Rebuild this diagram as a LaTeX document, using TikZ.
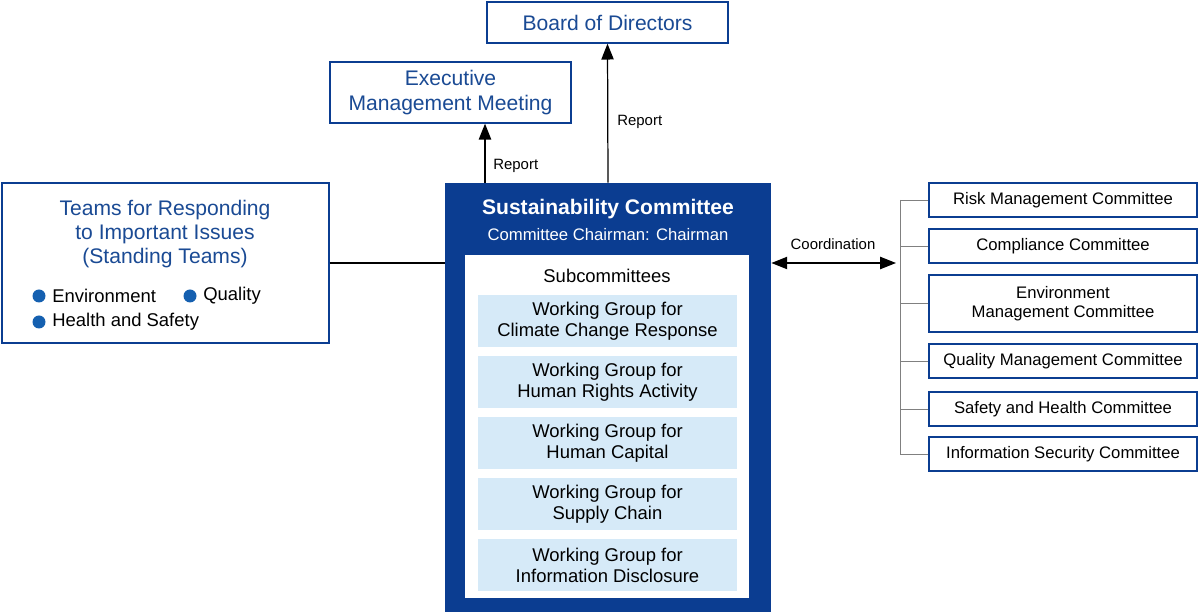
\documentclass[tikz,border=0pt]{standalone}
\usepackage{fontspec}
\setmainfont{Liberation Sans}
\usetikzlibrary{arrows.meta}
\definecolor{navy}{HTML}{0B3D91}
\definecolor{txtblue}{HTML}{1A4A94}
\definecolor{wgfill}{HTML}{D6EAF8}
\definecolor{dot}{HTML}{1560B0}
\begin{document}
\begin{tikzpicture}[x=0.02cm,y=-0.02cm,
 bx/.style={draw=navy,line width=0.8pt,fill=white,text=txtblue,align=center,inner sep=0pt},
 rb/.style={draw=navy,line width=0.8pt,fill=white,align=center,inner sep=0pt,font=\fontsize{9.5}{11}\selectfont},
 wg/.style={fill=wgfill,align=center,inner sep=0pt,font=\fontsize{10.5}{12}\selectfont},
 lbl/.style={font=\fontsize{8.5}{10}\selectfont,inner sep=0pt},
 arr/.style={-{Triangle[length=9pt,width=7pt]},line width=0.7pt}]
\useasboundingbox (0,0) rectangle (1200,614);
\node[bx,minimum width=241*0.02cm,minimum height=41*0.02cm,font=\fontsize{12}{14}\selectfont] (bod) at (607.5,22.5) {Board of Directors};
\node[bx,minimum width=241*0.02cm,minimum height=61*0.02cm,font=\fontsize{12}{14}\selectfont] (emm) at (450.5,92.5) {Executive\\Management Meeting};
\node[bx,minimum width=327*0.02cm,minimum height=160*0.02cm] (teams) at (165.5,263) {};
\node[text=txtblue,align=center,font=\fontsize{12}{13.5}\selectfont] (tt) at (165,234) {Teams for Responding\\to Important Issues\\(Standing Teams)};
\fill[dot] (39,296) circle (6.5) coordinate (d1);
\fill[dot] (190,296) circle (6.5) coordinate (d2);
\fill[dot] (39,322) circle (6.5) coordinate (d3);
\node[anchor=west,inner sep=0pt,font=\fontsize{10.5}{12}\selectfont] (e1) at (52,296) {Environment};
\node[anchor=west,inner sep=0pt,font=\fontsize{10.5}{12}\selectfont] (e2) at (203,296) {Quality};
\node[anchor=west,inner sep=0pt,font=\fontsize{10.5}{12}\selectfont] (e3) at (52,322) {Health and Safety};
\node[fill=navy,minimum width=326*0.02cm,minimum height=429*0.02cm,inner sep=0pt] (sc) at (608,397.5) {};
\node[text=white,font=\bfseries\fontsize{12}{14}\selectfont] (sct) at (608,209) {Sustainability Committee};
\node[text=white,font=\fontsize{9.5}{11}\selectfont] (scc) at (608,235) {Committee Chairman: Chairman};
\node[fill=white,minimum width=284*0.02cm,minimum height=343*0.02cm,inner sep=0pt] (inner) at (607,426.5) {};
\node[font=\fontsize{10.5}{12}\selectfont] (sub) at (607,276) {Subcommittees};
\foreach \n/\y/\t in {w1/321/{Working Group for\\Climate Change Response},w2/382/{Working Group for\\Human Rights Activity},w3/443/{Working Group for\\Human Capital},w4/504/{Working Group for\\Supply Chain},w5/565/{Working Group for\\Information Disclosure}}
  \node[wg,minimum width=259*0.02cm,minimum height=52*0.02cm] (\n) at (607.5,\y) {\t};
\foreach \n/\y/\h/\t in {r1/200/34/{Risk Management Committee},r2/246/34/{Compliance Committee},r3/303.5/57/{Environment\\Management Committee},r4/361/34/{Quality Management Committee},r5/409/34/{Safety and Health Committee},r6/454/34/{Information Security Committee}}
  \node[rb,minimum width=268*0.02cm,minimum height=\h*0.02cm] (\n) at (1063,\y) {\t};
\coordinate (bt) at (900,200);
\coordinate (bb) at (900,454);
\draw[gray,line width=0.5pt] (bt) -- (bb);
\foreach \n in {r1,r2,r3,r4,r5,r6} \draw[gray,line width=0.5pt] (\n.west) -- (\n.west -| bt);
\coordinate (cr) at (896,263);
\draw[{Triangle[length=9pt,width=7pt]}-{Triangle[length=9pt,width=7pt]},line width=0.7pt] (sc.east |- cr) -- (cr);
\node[lbl] (coord) at (833,244) {Coordination};
\draw[line width=0.6pt] (teams.east |- 0,263) -- (sc.west |- 0,263);
\draw[arr] (485,183) -- (emm.south -| 485,0);
\node[lbl,anchor=west] (rep1) at (493,166) {Report};
\draw[arr] (sc.north) -- (bod.south);
\node[lbl,anchor=west] (rep2) at (617,122) {Report};
\end{tikzpicture}
\end{document}
